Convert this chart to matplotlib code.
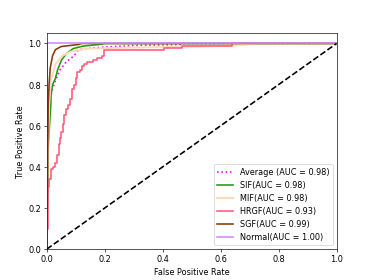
import matplotlib
matplotlib.use('Agg')
import matplotlib.pyplot as plt

# ROC curve points
avg_fpr = [0.0, 0.0, 0.01, 0.02, 0.03, 0.045, 0.067, 0.094, 0.11, 0.17, 0.3, 0.46, 0.47, 1.0]
avg_tpr = [0.0, 0.55, 0.72, 0.78, 0.82, 0.87, 0.91, 0.94, 0.97, 0.98, 0.99, 0.995, 1.0, 1.0]

sif_fpr = [0.0, 0.005, 0.014, 0.015, 0.02, 0.03, 0.037, 0.051, 0.068, 0.091, 0.125, 0.18, 0.2, 1.0]
sif_tpr = [0.0, 0.5, 0.70, 0.75, 0.80, 0.83, 0.87, 0.92, 0.95, 0.975, 0.987, 0.995, 1.0, 1.0]

mif_fpr = [0.0, 0.003, 0.008, 0.014, 0.03, 0.054, 0.083, 0.14, 0.3, 0.53, 0.65, 0.72, 1.0]
mif_tpr = [0.0, 0.4, 0.7, 0.82, 0.90, 0.94, 0.96, 0.975, 0.98, 0.985, 0.99, 1.0, 1.0]

hrgf_fpr = [0.0, 0.003, 0.003, 0.008, 0.014, 0.02, 0.03, 0.037, 0.042, 0.046, 0.05, 0.055, 0.06,
            0.066, 0.072, 0.08, 0.087, 0.094, 0.1, 0.105, 0.114, 0.122, 0.13, 0.14, 0.158,
            0.175, 0.19, 0.198, 0.21, 0.405, 0.468, 0.64, 0.77, 1.0]
hrgf_tpr = [0.0, 0.1, 0.24, 0.30, 0.34, 0.39, 0.40, 0.42, 0.46, 0.51, 0.54, 0.57, 0.61,
            0.65, 0.68, 0.70, 0.73, 0.78, 0.80, 0.83, 0.86, 0.87, 0.89, 0.90, 0.91,
            0.92, 0.93, 0.94, 0.97, 0.97, 0.98, 0.99, 1.0, 1.0]

sgf_fpr = [0.0, 0.003, 0.005, 0.008, 0.012, 0.02, 0.03, 0.05, 0.08, 0.11, 0.12, 1.0]
sgf_tpr = [0.0, 0.4, 0.7, 0.8, 0.88, 0.94, 0.97, 0.985, 0.99, 0.995, 1.0, 1.0]

normal_fpr = [0.0, 0.0, 1.0]
normal_tpr = [0.0, 1.0, 1.0]

fig = plt.figure(figsize=(6.4, 4.8), dpi=374 / 6.4)
plt.plot(avg_fpr, avg_tpr, color='magenta', lw=2, linestyle=':', label='Average (AUC = 0.98)')
plt.plot(sif_fpr, sif_tpr, color='#1f9e10', lw=2, label='SIF(AUC = 0.98)')
plt.plot(mif_fpr, mif_tpr, color='peachpuff', lw=2.5, label='MIF(AUC = 0.98)')
plt.plot(hrgf_fpr, hrgf_tpr, color='#ff5c7a', lw=2, drawstyle='steps-pre', label='HRGF(AUC = 0.93)')
plt.plot(sgf_fpr, sgf_tpr, color='#8b3a10', lw=2, label='SGF(AUC = 0.99)')
plt.plot(normal_fpr, normal_tpr, color='#cf8dff', lw=2, label='Normal(AUC = 1.00)')
plt.plot([0, 1], [0, 1], 'k--', lw=2)
plt.xlim([0.0, 1.0])
plt.ylim([0.0, 1.05])
plt.xlabel('False Positive Rate')
plt.ylabel('True Positive Rate')
plt.legend(loc='lower right')
plt.savefig('out.png', dpi=374 / 6.4)
